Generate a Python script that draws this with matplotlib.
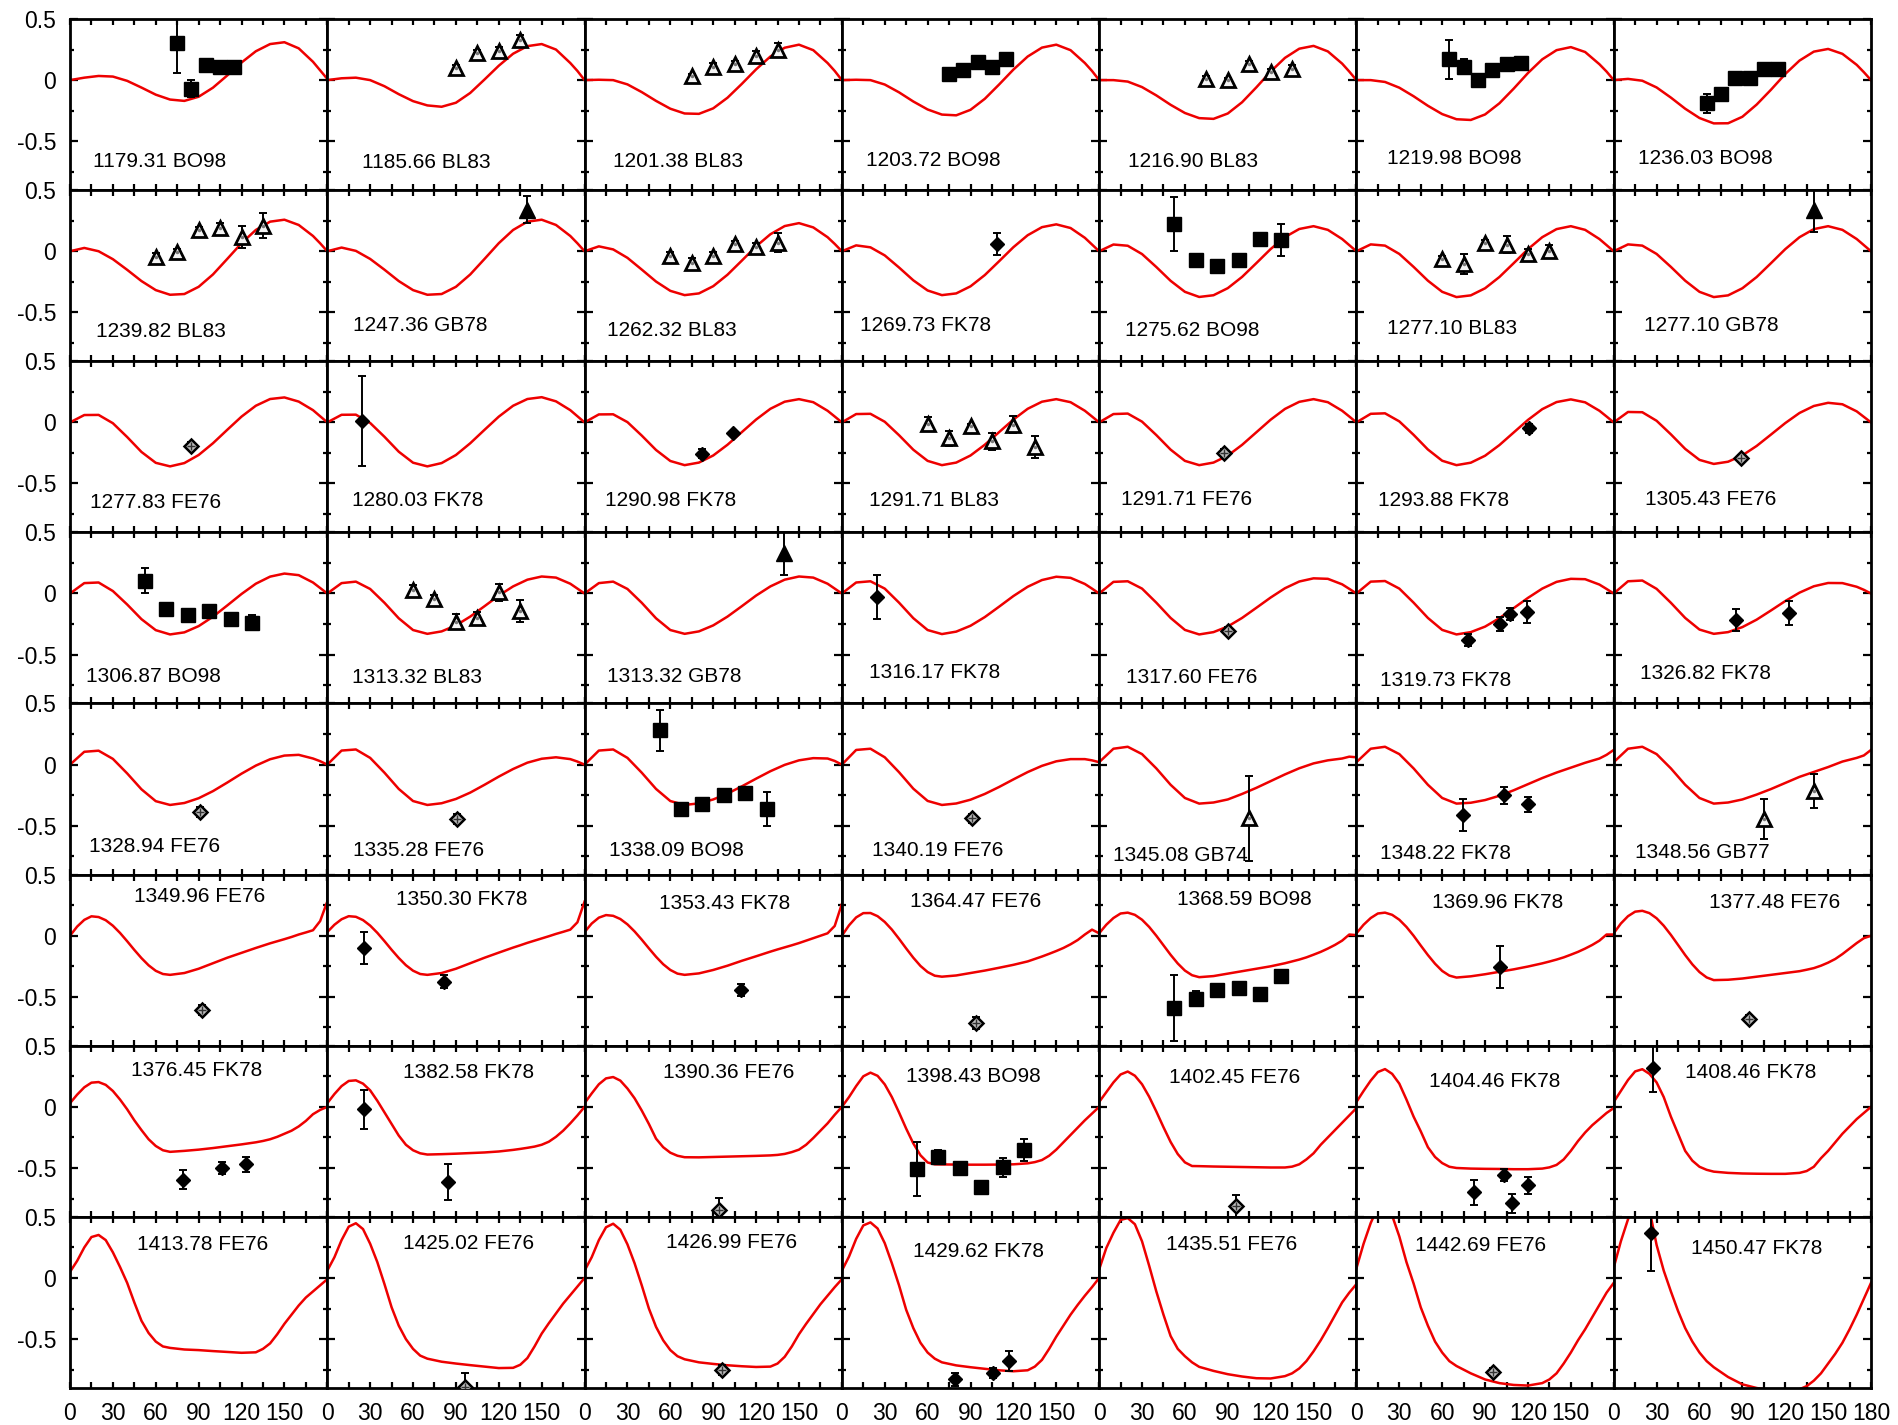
import matplotlib
matplotlib.use("Agg")
import matplotlib.pyplot as plt
from matplotlib.ticker import FixedLocator

plt.rcParams['font.family'] = ['Liberation Sans', 'DejaVu Sans']
plt.rcParams['axes.unicode_minus'] = False

# ---------------- data ----------------
LABELS = [
    ["1179.31 BO98", "1185.66 BL83", "1201.38 BL83", "1203.72 BO98", "1216.90 BL83", "1219.98 BO98", "1236.03 BO98"],
    ["1239.82 BL83", "1247.36 GB78", "1262.32 BL83", "1269.73 FK78", "1275.62 BO98", "1277.10 BL83", "1277.10 GB78"],
    ["1277.83 FE76", "1280.03 FK78", "1290.98 FK78", "1291.71 BL83", "1291.71 FE76", "1293.88 FK78", "1305.43 FE76"],
    ["1306.87 BO98", "1313.32 BL83", "1313.32 GB78", "1316.17 FK78", "1317.60 FE76", "1319.73 FK78", "1326.82 FK78"],
    ["1328.94 FE76", "1335.28 FE76", "1338.09 BO98", "1340.19 FE76", "1345.08 GB74", "1348.22 FK78", "1348.56 GB77"],
    ["1349.96 FE76", "1350.30 FK78", "1353.43 FK78", "1364.47 FE76", "1368.59 BO98", "1369.96 FK78", "1377.48 FE76"],
    ["1376.45 FK78", "1382.58 FK78", "1390.36 FE76", "1398.43 BO98", "1402.45 FE76", "1404.46 FK78", "1408.46 FK78"],
    ["1413.78 FE76", "1425.02 FE76", "1426.99 FE76", "1429.62 FK78", "1435.51 FE76", "1442.69 FE76", "1450.47 FK78"],
]

# model curves, rows 1-5 sampled on CURVE_X, rows 6-8 on CURVE_X_FINE
CURVE_X = [0, 10, 20, 30, 40, 50, 60, 70, 80, 90, 100, 110, 120, 130, 140, 150, 160, 170, 175, 180]
CURVE_X_FINE = [0, 5, 10, 15, 20, 25, 30, 35, 40, 45, 50, 55, 60, 65, 70, 80, 90, 100, 110, 120, 130,
                135, 140, 145, 150, 155, 160, 165, 170, 175, 180]

CURVES_R1 = [
    [0.0, 0.02, 0.034, 0.029, -0.006, -0.061, -0.119, -0.159, -0.17, -0.136, -0.062, 0.038, 0.144, 0.236, 0.295, 0.31, 0.26, 0.15, 0.08, 0.01],
    [0.0, 0.015, 0.02, 0.0, -0.05, -0.115, -0.172, -0.207, -0.218, -0.185, -0.105, 0.005, 0.118, 0.216, 0.278, 0.295, 0.25, 0.14, 0.075, 0.0],
    [0.0, 0.003, 0.0, -0.035, -0.098, -0.17, -0.234, -0.273, -0.276, -0.231, -0.144, -0.031, 0.088, 0.193, 0.265, 0.29, 0.245, 0.14, 0.075, 0.0],
    [0.0, 0.003, 0.0, -0.036, -0.1, -0.175, -0.24, -0.282, -0.288, -0.243, -0.153, -0.036, 0.086, 0.193, 0.266, 0.29, 0.245, 0.14, 0.075, 0.0],
    [0.0, 0.0, -0.012, -0.057, -0.125, -0.202, -0.269, -0.311, -0.317, -0.273, -0.181, -0.059, 0.07, 0.182, 0.257, 0.28, 0.235, 0.135, 0.07, 0.0],
    [0.0, 0.0, -0.015, -0.062, -0.132, -0.21, -0.278, -0.32, -0.326, -0.281, -0.19, -0.07, 0.058, 0.17, 0.245, 0.27, 0.23, 0.13, 0.07, 0.0],
    [0.0, 0.01, -0.005, -0.06, -0.143, -0.234, -0.31, -0.354, -0.353, -0.30, -0.2, -0.079, 0.05, 0.16, 0.233, 0.255, 0.215, 0.125, 0.065, 0.0],
]
CURVES_R2 = [
    [0.0, 0.027, 0.0, -0.065, -0.152, -0.244, -0.318, -0.356, -0.35, -0.291, -0.19, -0.063, 0.066, 0.174, 0.242, 0.258, 0.215, 0.125, 0.065, 0.0],
    [0.0, 0.03, 0.003, -0.063, -0.151, -0.244, -0.318, -0.356, -0.35, -0.291, -0.19, -0.063, 0.066, 0.174, 0.242, 0.258, 0.215, 0.125, 0.065, 0.0],
    [0.0, 0.04, 0.015, -0.054, -0.15, -0.248, -0.324, -0.359, -0.345, -0.286, -0.192, -0.077, 0.04, 0.139, 0.206, 0.23, 0.195, 0.115, 0.06, 0.0],
    [0.0, 0.048, 0.032, -0.034, -0.133, -0.238, -0.321, -0.359, -0.345, -0.287, -0.195, -0.082, 0.033, 0.131, 0.197, 0.22, 0.19, 0.11, 0.055, 0.0],
    [0.0, 0.055, 0.045, -0.023, -0.129, -0.242, -0.332, -0.374, -0.36, -0.302, -0.21, -0.097, 0.018, 0.116, 0.182, 0.205, 0.175, 0.1, 0.05, 0.0],
    [0.0, 0.056, 0.046, -0.022, -0.128, -0.241, -0.332, -0.375, -0.361, -0.303, -0.211, -0.098, 0.017, 0.115, 0.181, 0.205, 0.175, 0.1, 0.05, 0.0],
    [0.0, 0.056, 0.046, -0.022, -0.128, -0.241, -0.332, -0.375, -0.361, -0.303, -0.211, -0.098, 0.017, 0.115, 0.181, 0.205, 0.175, 0.1, 0.05, 0.0],
]
CURVES_R3 = [
    [0.0, 0.06, 0.061, -0.007, -0.12, -0.242, -0.331, -0.36, -0.333, -0.267, -0.171, -0.061, 0.047, 0.136, 0.191, 0.204, 0.17, 0.1, 0.05, 0.0],
    [0.0, 0.062, 0.063, -0.005, -0.118, -0.24, -0.33, -0.36, -0.333, -0.267, -0.171, -0.061, 0.047, 0.136, 0.191, 0.206, 0.172, 0.1, 0.05, 0.0],
    [0.0, 0.065, 0.066, 0.002, -0.108, -0.226, -0.316, -0.35, -0.329, -0.271, -0.183, -0.08, 0.023, 0.111, 0.169, 0.19, 0.165, 0.095, 0.048, 0.0],
    [0.0, 0.068, 0.07, 0.005, -0.105, -0.224, -0.315, -0.35, -0.329, -0.271, -0.183, -0.08, 0.023, 0.111, 0.169, 0.19, 0.165, 0.095, 0.048, 0.0],
    [0.0, 0.068, 0.072, 0.006, -0.104, -0.223, -0.315, -0.35, -0.329, -0.272, -0.184, -0.081, 0.022, 0.11, 0.168, 0.19, 0.165, 0.095, 0.048, 0.0],
    [0.0, 0.07, 0.074, 0.008, -0.102, -0.222, -0.314, -0.35, -0.33, -0.273, -0.186, -0.083, 0.02, 0.108, 0.166, 0.188, 0.164, 0.095, 0.048, 0.0],
    [0.0, 0.085, 0.083, 0.013, -0.098, -0.217, -0.307, -0.34, -0.322, -0.27, -0.193, -0.1, -0.006, 0.077, 0.134, 0.16, 0.148, 0.09, 0.045, 0.0],
]
CURVES_R4 = [
    [0.0, 0.085, 0.09, 0.02, -0.09, -0.21, -0.30, -0.335, -0.318, -0.267, -0.19, -0.098, -0.004, 0.08, 0.138, 0.163, 0.15, 0.09, 0.045, 0.0],
    [0.0, 0.085, 0.097, 0.037, -0.076, -0.203, -0.299, -0.33, -0.31, -0.261, -0.189, -0.104, -0.017, 0.058, 0.113, 0.139, 0.13, 0.08, 0.04, 0.0],
    [0.0, 0.085, 0.097, 0.037, -0.076, -0.203, -0.299, -0.33, -0.31, -0.261, -0.189, -0.104, -0.017, 0.058, 0.113, 0.139, 0.13, 0.08, 0.04, 0.0],
    [0.0, 0.09, 0.1, 0.04, -0.075, -0.202, -0.299, -0.332, -0.312, -0.264, -0.193, -0.108, -0.021, 0.055, 0.11, 0.137, 0.128, 0.078, 0.04, 0.0],
    [0.0, 0.095, 0.1, 0.04, -0.075, -0.2, -0.298, -0.335, -0.316, -0.27, -0.2, -0.117, -0.033, 0.043, 0.098, 0.124, 0.12, 0.075, 0.038, 0.0],
    [0.0, 0.097, 0.102, 0.04, -0.075, -0.2, -0.298, -0.335, -0.316, -0.271, -0.202, -0.12, -0.036, 0.04, 0.095, 0.12, 0.117, 0.073, 0.037, 0.0],
    [0.0, 0.1, 0.106, 0.038, -0.076, -0.2, -0.295, -0.33, -0.316, -0.275, -0.214, -0.139, -0.062, 0.007, 0.059, 0.086, 0.085, 0.055, 0.03, 0.0],
]
CURVES_R5 = [
    [0.0, 0.105, 0.114, 0.047, -0.072, -0.202, -0.299, -0.33, -0.314, -0.275, -0.217, -0.147, -0.074, -0.008, 0.044, 0.074, 0.08, 0.05, 0.028, 0.0],
    [0.0, 0.115, 0.124, 0.055, -0.066, -0.199, -0.298, -0.33, -0.316, -0.281, -0.229, -0.165, -0.098, -0.036, 0.016, 0.048, 0.06, 0.045, 0.025, 0.0],
    [0.0, 0.115, 0.124, 0.055, -0.066, -0.199, -0.298, -0.33, -0.317, -0.285, -0.237, -0.178, -0.115, -0.054, -0.002, 0.035, 0.053, 0.05, 0.03, 0.0],
    [0.0, 0.12, 0.13, 0.06, -0.062, -0.197, -0.297, -0.33, -0.318, -0.287, -0.24, -0.183, -0.121, -0.061, -0.01, 0.027, 0.045, 0.045, 0.035, 0.02],
    [0.02, 0.13, 0.146, 0.086, -0.031, -0.165, -0.273, -0.319, -0.31, -0.285, -0.24, -0.19, -0.135, -0.08, -0.03, 0.01, 0.035, 0.05, 0.065, 0.06],
    [0.02, 0.13, 0.146, 0.086, -0.031, -0.165, -0.273, -0.319, -0.312, -0.29, -0.255, -0.21, -0.16, -0.11, -0.065, -0.025, 0.015, 0.05, 0.08, 0.12],
    [0.02, 0.13, 0.146, 0.086, -0.031, -0.165, -0.273, -0.319, -0.31, -0.285, -0.245, -0.2, -0.15, -0.1, -0.06, -0.02, 0.025, 0.055, 0.075, 0.12],
]
CURVES_R6 = [
    [0.0, 0.075, 0.13, 0.159, 0.153, 0.127, 0.082, 0.023, -0.045, -0.116, -0.183, -0.242, -0.287, -0.313, -0.32, -0.305, -0.27, -0.225, -0.18, -0.14, -0.1, -0.081, -0.062, -0.045, -0.028, -0.01, 0.01, 0.027, 0.045, 0.12, 0.28],
    [0.03, 0.09, 0.135, 0.16, 0.155, 0.128, 0.083, 0.024, -0.044, -0.115, -0.182, -0.241, -0.286, -0.313, -0.32, -0.305, -0.27, -0.225, -0.18, -0.138, -0.097, -0.078, -0.058, -0.04, -0.022, -0.004, 0.015, 0.032, 0.05, 0.11, 0.28],
    [0.03, 0.1, 0.148, 0.169, 0.163, 0.137, 0.093, 0.035, -0.032, -0.103, -0.172, -0.233, -0.28, -0.31, -0.32, -0.308, -0.28, -0.245, -0.205, -0.168, -0.13, -0.112, -0.095, -0.078, -0.06, -0.04, -0.02, 0.0, 0.02, 0.08, 0.26],
    [0.0, 0.085, 0.15, 0.185, 0.186, 0.16, 0.113, 0.05, -0.025, -0.104, -0.18, -0.247, -0.297, -0.327, -0.335, -0.325, -0.305, -0.285, -0.262, -0.238, -0.21, -0.19, -0.17, -0.148, -0.125, -0.1, -0.07, -0.035, 0.01, 0.05, 0.02],
    [0.02, 0.09, 0.145, 0.182, 0.189, 0.171, 0.131, 0.072, 0.0, -0.078, -0.156, -0.227, -0.285, -0.323, -0.339, -0.33, -0.31, -0.29, -0.27, -0.25, -0.225, -0.21, -0.195, -0.177, -0.155, -0.132, -0.105, -0.075, -0.04, 0.01, 0.005],
    [0.02, 0.09, 0.145, 0.182, 0.189, 0.171, 0.131, 0.072, 0.0, -0.08, -0.158, -0.229, -0.288, -0.326, -0.342, -0.332, -0.315, -0.295, -0.275, -0.252, -0.226, -0.211, -0.195, -0.177, -0.155, -0.132, -0.105, -0.075, -0.04, 0.01, 0.01],
    [0.02, 0.1, 0.16, 0.197, 0.204, 0.185, 0.143, 0.082, 0.007, -0.075, -0.158, -0.234, -0.297, -0.341, -0.363, -0.36, -0.35, -0.335, -0.32, -0.305, -0.29, -0.278, -0.265, -0.245, -0.22, -0.19, -0.15, -0.105, -0.06, -0.02, 0.0],
]
CURVES_R7 = [
    [0.03, 0.1, 0.16, 0.198, 0.203, 0.18, 0.13, 0.06, -0.02, -0.11, -0.19, -0.265, -0.32, -0.355, -0.368, -0.36, -0.35, -0.337, -0.322, -0.307, -0.29, -0.279, -0.265, -0.245, -0.22, -0.195, -0.16, -0.115, -0.06, -0.025, 0.0],
    [0.03, 0.105, 0.17, 0.212, 0.217, 0.19, 0.135, 0.05, -0.045, -0.14, -0.235, -0.31, -0.355, -0.38, -0.39, -0.387, -0.383, -0.378, -0.373, -0.365, -0.352, -0.344, -0.335, -0.325, -0.31, -0.285, -0.245, -0.195, -0.135, -0.07, 0.0],
    [0.03, 0.11, 0.185, 0.233, 0.244, 0.215, 0.15, 0.07, -0.03, -0.14, -0.26, -0.33, -0.375, -0.4, -0.412, -0.413, -0.41, -0.407, -0.404, -0.401, -0.397, -0.393, -0.385, -0.37, -0.35, -0.31, -0.255, -0.195, -0.135, -0.065, 0.0],
    [0.0, 0.08, 0.17, 0.25, 0.28, 0.254, 0.184, 0.08, -0.046, -0.178, -0.299, -0.396, -0.455, -0.47, -0.471, -0.472, -0.473, -0.473, -0.472, -0.47, -0.462, -0.452, -0.435, -0.4, -0.35, -0.29, -0.23, -0.17, -0.11, -0.055, 0.0],
    [0.04, 0.12, 0.2, 0.265, 0.289, 0.255, 0.185, 0.083, -0.038, -0.166, -0.287, -0.386, -0.454, -0.484, -0.485, -0.488, -0.49, -0.492, -0.494, -0.496, -0.496, -0.489, -0.47, -0.43, -0.38, -0.31, -0.25, -0.19, -0.13, -0.07, -0.01],
    [0.04, 0.13, 0.215, 0.285, 0.309, 0.27, 0.19, 0.06, -0.08, -0.2, -0.33, -0.41, -0.46, -0.49, -0.5, -0.505, -0.507, -0.508, -0.51, -0.51, -0.505, -0.495, -0.475, -0.43, -0.36, -0.28, -0.21, -0.15, -0.1, -0.05, -0.01],
    [0.04, 0.13, 0.22, 0.29, 0.308, 0.27, 0.2, 0.08, -0.08, -0.22, -0.36, -0.44, -0.49, -0.515, -0.53, -0.54, -0.545, -0.547, -0.548, -0.548, -0.54, -0.525, -0.49, -0.42, -0.36, -0.29, -0.22, -0.16, -0.1, -0.05, 0.0],
]
CURVES_R8 = [
    [0.05, 0.14, 0.25, 0.335, 0.352, 0.31, 0.21, 0.09, -0.04, -0.2, -0.35, -0.45, -0.52, -0.56, -0.572, -0.585, -0.59, -0.598, -0.605, -0.612, -0.608, -0.58, -0.535, -0.46, -0.375, -0.3, -0.225, -0.16, -0.11, -0.06, -0.01],
    [0.06, 0.17, 0.31, 0.42, 0.448, 0.4, 0.28, 0.13, -0.05, -0.24, -0.39, -0.5, -0.58, -0.635, -0.66, -0.685, -0.7, -0.713, -0.725, -0.737, -0.735, -0.71, -0.655, -0.56, -0.455, -0.37, -0.29, -0.21, -0.14, -0.07, 0.0],
    [0.06, 0.17, 0.31, 0.415, 0.444, 0.395, 0.275, 0.12, -0.06, -0.25, -0.4, -0.51, -0.59, -0.64, -0.665, -0.69, -0.703, -0.714, -0.722, -0.728, -0.725, -0.7, -0.645, -0.56, -0.46, -0.375, -0.295, -0.215, -0.145, -0.075, -0.01],
    [0.06, 0.175, 0.32, 0.43, 0.455, 0.405, 0.285, 0.12, -0.06, -0.26, -0.41, -0.53, -0.61, -0.66, -0.69, -0.715, -0.73, -0.743, -0.755, -0.763, -0.755, -0.725, -0.67, -0.58, -0.48, -0.39, -0.3, -0.22, -0.145, -0.075, 0.0],
    [0.07, 0.245, 0.37, 0.475, 0.49, 0.44, 0.30, 0.1, -0.11, -0.3, -0.475, -0.58, -0.64, -0.69, -0.727, -0.76, -0.787, -0.806, -0.82, -0.822, -0.803, -0.78, -0.74, -0.68, -0.6, -0.51, -0.41, -0.305, -0.2, -0.12, -0.05],
    [0.08, 0.28, 0.45, 0.58, 0.6, 0.51, 0.34, 0.13, -0.045, -0.24, -0.39, -0.52, -0.61, -0.68, -0.72, -0.78, -0.83, -0.86, -0.875, -0.88, -0.86, -0.83, -0.78, -0.7, -0.61, -0.51, -0.42, -0.32, -0.22, -0.12, -0.04],
    [0.085, 0.3, 0.48, 0.62, 0.66, 0.56, 0.27, 0.06, -0.11, -0.27, -0.41, -0.52, -0.61, -0.68, -0.73, -0.81, -0.87, -0.9, -0.92, -0.93, -0.91, -0.885, -0.84, -0.78, -0.7, -0.62, -0.53, -0.42, -0.3, -0.17, -0.04],
]
CURVES = [CURVES_R1, CURVES_R2, CURVES_R3, CURVES_R4, CURVES_R5, CURVES_R6, CURVES_R7, CURVES_R8]

# measured points: phase angle, value, error (one list per panel)
PX_R1 = [[75, 85, 95, 105, 115], [90, 105, 120, 135], [75, 90, 105, 120, 135], [75, 85, 95, 105, 115],
         [75, 90, 105, 120, 135], [65, 75, 85, 95, 105, 115], [65, 75, 85, 95, 105, 115]]
PY_R1 = [[0.30, -0.07, 0.12, 0.11, 0.11], [0.10, 0.22, 0.24, 0.33], [0.03, 0.11, 0.13, 0.20, 0.25], [0.05, 0.08, 0.15, 0.11, 0.17],
         [0.01, 0.0, 0.13, 0.07, 0.09], [0.17, 0.11, 0.0, 0.08, 0.13, 0.14], [-0.19, -0.115, 0.015, 0.02, 0.09, 0.09]]
PE_R1 = [[0.24, 0.07, 0.03, 0.02, 0.02], [0.02, 0.03, 0.03, 0.04], [0.02, 0.03, 0.03, 0.04, 0.05], [0.05, 0.02, 0.02, 0.02, 0.02],
         [0.02, 0.02, 0.03, 0.02, 0.03], [0.16, 0.06, 0.02, 0.02, 0.02, 0.02], [0.08, 0.03, 0.02, 0.02, 0.02, 0.02]]

PX_R2 = [[60, 75, 90, 105, 120, 135], [140], [60, 75, 90, 105, 120, 135], [108.5],
         [52.5, 67.5, 82.5, 97.5, 112.5, 127.5], [60, 75, 90, 105, 120, 135], [140]]
PY_R2 = [[-0.045, -0.01, 0.175, 0.19, 0.115, 0.21], [0.34], [-0.035, -0.095, -0.04, 0.06, 0.035, 0.07], [0.06],
         [0.22, -0.07, -0.12, -0.07, 0.10, 0.095], [-0.065, -0.105, 0.065, 0.055, -0.02, 0.005], [0.34]]
PE_R2 = [[0.03, 0.03, 0.02, 0.04, 0.09, 0.10], [0.11], [0.03, 0.04, 0.03, 0.02, 0.03, 0.08], [0.09],
         [0.22, 0.03, 0.02, 0.03, 0.02, 0.13], [0.03, 0.08, 0.03, 0.07, 0.04, 0.05], [0.18]]

PX_R3 = [[85], [24.5], [82, 103.5], [60, 75, 90, 105, 120, 135], [87.5], [121], [89]]
PY_R3 = [[-0.19], [0.01], [-0.255, -0.09], [-0.01, -0.13, -0.03, -0.155, -0.02, -0.2], [-0.25], [-0.05], [-0.295]]
PE_R3 = [[0.03], [0.37], [0.04, 0.02], [0.05, 0.06, 0.02, 0.07, 0.07, 0.09], [0.03], [0.04], [0.03]]

PX_R4 = [[52.5, 67.5, 82.5, 97.5, 112.5, 127.5], [60, 75, 90, 105, 120, 135], [139.5], [24.5], [90],
         [78, 100.5, 107.5, 119], [85.7, 122.6]]
PY_R4 = [[0.105, -0.125, -0.18, -0.14, -0.21, -0.24], [0.03, -0.045, -0.23, -0.2, 0.01, -0.145], [0.33], [-0.03], [-0.305],
         [-0.38, -0.25, -0.17, -0.155], [-0.22, -0.16]]
PE_R4 = [[0.1, 0.03, 0.03, 0.03, 0.02, 0.06], [0.04, 0.03, 0.06, 0.05, 0.07, 0.09], [0.18], [0.18], [0.03],
         [0.05, 0.06, 0.05, 0.09], [0.09, 0.1]]

PX_R5 = [[90.7], [91], [52.5, 67.5, 82.5, 97.5, 112.5, 127.5], [91], [105], [74.5, 103, 120], [105, 140]]
PY_R5 = [[-0.39], [-0.445], [0.28, -0.36, -0.32, -0.245, -0.235, -0.36], [-0.44], [-0.44], [-0.41, -0.25, -0.325], [-0.445, -0.215]]
PE_R5 = [[0.04], [0.04], [0.17, 0.03, 0.03, 0.03, 0.03, 0.14], [0.04], [0.35], [0.13, 0.07, 0.06], [0.16, 0.14]]

PX_R6 = [[92], [25.6, 82], [109.6], [93.7], [52.5, 67.5, 82.5, 97.5, 112.5, 127.5], [100.4], [94.6]]
PY_R6 = [[-0.61], [-0.1, -0.375], [-0.445], [-0.715], [-0.59, -0.515, -0.44, -0.43, -0.475, -0.33], [-0.255], [-0.68]]
PE_R6 = [[0.04], [0.13, 0.05], [0.05], [0.05], [0.27, 0.06, 0.02, 0.02, 0.05, 0.05], [0.17], [0.03]]

PX_R7 = [[79, 106, 123], [25.6, 84.7], [93.7], [52.5, 67.5, 82.5, 97.5, 112.5, 127.5], [95.7], [82.4, 103, 109, 120], [27.6]]
PY_R7 = [[-0.595, -0.5, -0.47], [-0.02, -0.615], [-0.845], [-0.51, -0.41, -0.5, -0.655, -0.495, -0.355], [-0.81],
         [-0.7, -0.56, -0.79, -0.64], [0.315]]
PE_R7 = [[0.08, 0.05, 0.06], [0.16, 0.15], [0.1], [0.22, 0.06, 0.03, 0.05, 0.08, 0.09], [0.09], [0.1, 0.05, 0.08, 0.07], [0.19]]

PX_R8 = [[], [96], [96], [79, 106, 117], [], [95.8], [26.4]]
PY_R8 = [[], [-0.89], [-0.755], [-0.83, -0.775, -0.68], [], [-0.77], [0.37]]
PE_R8 = [[], [0.11], [0.04], [0.05, 0.04, 0.08], [], [0.03], [0.315]]

PX = [PX_R1, PX_R2, PX_R3, PX_R4, PX_R5, PX_R6, PX_R7, PX_R8]
PY = [PY_R1, PY_R2, PY_R3, PY_R4, PY_R5, PY_R6, PY_R7, PY_R8]
PE = [PE_R1, PE_R2, PE_R3, PE_R4, PE_R5, PE_R6, PE_R7, PE_R8]

X_TICKS = [0, 30, 60, 90, 120, 150, 180]
Y_TICKS = [-0.5, 0, 0.5]
Y_TICK_LABELS = ["-0.5", "0", "0.5"]

# ---------------- layout (label placement inside each panel) ----------------
LABEL_POS = [
    [(16, -0.665), (24, -0.67), (20, -0.665), (17, -0.66), (20.4, -0.665), (21.5, -0.64), (17, -0.64)],
    [(18, -0.655), (18, -0.61), (16, -0.645), (13, -0.61), (18, -0.645), (21.5, -0.633), (21.5, -0.605)],
    [(14, -0.655), (17, -0.64), (14, -0.64), (19, -0.64), (15, -0.63), (15.4, -0.64), (22, -0.63)],
    [(11, -0.68), (17, -0.69), (16, -0.68), (19, -0.645), (19, -0.69), (16.5, -0.715), (18.6, -0.655)],
    [(13.5, -0.67), (18, -0.70), (17, -0.70), (21, -0.70), (9.7, -0.74), (16.5, -0.73), (15, -0.715)],
    [(45, 0.32), (48, 0.30), (52, 0.265), (48, 0.28), (54.5, 0.30), (53, 0.27), (67, 0.27)],
    [(43, 0.295), (53, 0.28), (55, 0.28), (45, 0.245), (49, 0.24), (51, 0.205), (50, 0.285)],
    [(47, 0.27), (53, 0.28), (57, 0.29), (50, 0.22), (46.5, 0.276), (41, 0.262), (54.4, 0.245)],
]

OPEN_TRI = dict(marker='^', ms=10.5, mfc='#f4f4f4', mec='black', mew=2.0)
STYLE = {
    'BO98': dict(marker='s', ms=10, mfc='black', mec='black', mew=1),
    'BL83': OPEN_TRI, 'GB74': OPEN_TRI, 'GB77': OPEN_TRI,
    'GB78': dict(marker='^', ms=11, mfc='black', mec='black', mew=1),
    'FK78': dict(marker='D', ms=7.5, mfc='black', mec='black', mew=1),
    'FE76': dict(marker='D', ms=7, mfc='#bdbdbd', mec='black', mew=1.8),
}

fig = plt.figure(figsize=(18.98, 14.25), dpi=100)
gs = fig.add_gridspec(8, 7, left=70 / 1898, right=1871 / 1898,
                      top=1 - 19 / 1425, bottom=1 - 1388 / 1425,
                      wspace=0, hspace=0)

for r in range(8):
    cx = CURVE_X if r < 5 else CURVE_X_FINE
    for c in range(7):
        ax = fig.add_subplot(gs[r, c])
        ax.plot(cx, CURVES[r][c], color='#ee0000', lw=1.8, zorder=2,
                solid_joinstyle='round')
        src = LABELS[r][c].split()[1]
        xs, ys, es = PX[r][c], PY[r][c], PE[r][c]
        if xs:
            ax.errorbar(xs, ys, yerr=es, fmt='none', ecolor='black',
                        elinewidth=1.4, capsize=3, capthick=1.4, zorder=3)
            ax.plot(xs, ys, ls='none', zorder=4, **STYLE[src])
            if src in ('BL83', 'GB74', 'GB77'):
                ax.plot(xs, ys, ls='none', marker='.', ms=3, color='#777777', zorder=5)
            elif src == 'FE76':
                ax.plot(xs, ys, ls='none', marker='+', ms=6, mew=1.0, color='#333333', zorder=5)
        lx, ly = LABEL_POS[r][c]
        ax.text(lx, ly, LABELS[r][c], fontsize=15, ha='left', va='center', zorder=6)

        ax.set_xlim(0, 180)
        ax.set_ylim(-0.9, 0.5)
        ax.xaxis.set_major_locator(FixedLocator(X_TICKS))
        ax.xaxis.set_minor_locator(FixedLocator([15, 45, 75, 105, 135, 165]))
        ax.yaxis.set_major_locator(FixedLocator(Y_TICKS))
        ax.yaxis.set_minor_locator(FixedLocator([-0.75, -0.25, 0.25]))
        ax.tick_params(which='both', direction='in', top=True, right=True, width=1.6,
                       labelsize=16.5, pad=10)
        ax.tick_params(axis='y', which='major', length=6)
        ax.tick_params(axis='y', which='minor', length=3)
        ax.tick_params(axis='x', which='both', length=4)
        for sp in ax.spines.values():
            sp.set_linewidth(2)
        if c == 0:
            ax.set_yticklabels(Y_TICK_LABELS)
        else:
            ax.set_yticklabels([])
        if r == 7:
            lbls = [str(t) for t in X_TICKS]
            if c != 6:
                lbls[-1] = ''
            ax.set_xticklabels(lbls)
        else:
            ax.set_xticklabels([])

fig.savefig('out.png', dpi=100)
